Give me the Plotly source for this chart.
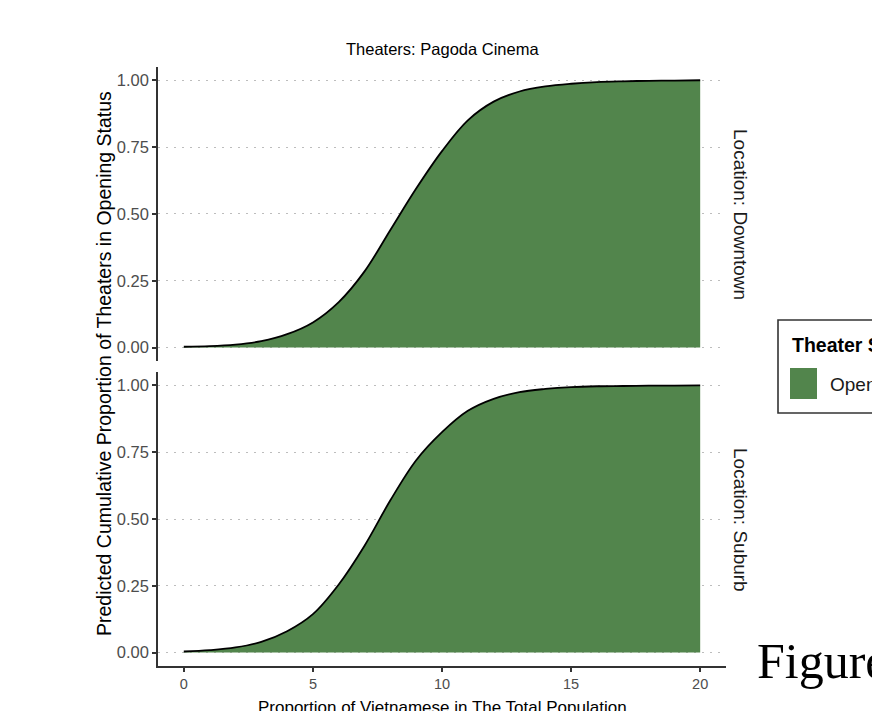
import plotly.graph_objects as go

# The page body has an 8px default margin, so the figure is sized to fill
# the rest of the 880x711 window exactly.
OFF = 8
W, H = 880 - OFF, 711 - OFF

# ---------------- data ----------------
proportion = list(range(0, 21))
downtown_cum = [0.003, 0.005, 0.011, 0.024, 0.05, 0.094, 0.17, 0.285, 0.44, 0.595,
                0.735, 0.85, 0.92, 0.958, 0.977, 0.987, 0.993, 0.996, 0.998, 0.999, 1.0]
suburb_cum = [0.004, 0.009, 0.019, 0.04, 0.08, 0.144, 0.255, 0.40, 0.57, 0.72,
              0.825, 0.905, 0.95, 0.975, 0.987, 0.994, 0.997, 0.998, 0.999, 0.9995, 1.0]
y_ticks = [0, 0.25, 0.5, 0.75, 1.0]
y_tick_labels = ["0.00", "0.25", "0.50", "0.75", "1.00"]
x_ticks = [0, 5, 10, 15, 20]
x_tick_labels = ["0", "5", "10", "15", "20"]
facets = ["Location: Downtown", "Location: Suburb"]
title_text = "Theaters: Pagoda Cinema"
x_title = "Proportion of Vietnamese in The Total Population"
y_title = "Predicted Cumulative Proportion of Theaters in Opening Status"
legend_title = "Theater Status"
legend_label = "Opening"

FILL = "#52854C"
FONT = "Liberation Sans"
AXIS_COL = "#333333"
TICK_COL = "#4d4d4d"
GRID_COL = "#bdbdbd"


def px_x(p):
    return (p - OFF) / W


def px_y(p):
    return 1 - (p - OFF) / H


fig = go.Figure()
for xa, ya, vals in [("x", "y", downtown_cum), ("x2", "y2", suburb_cum)]:
    fig.add_trace(go.Scatter(
        x=proportion, y=vals, xaxis=xa, yaxis=ya,
        mode="lines", line=dict(color="black", width=1.8, shape="spline", smoothing=1.0),
        fill="tozeroy", fillcolor=FILL, hoverinfo="skip", showlegend=False,
    ))

xdom = [px_x(158), px_x(726)]
top_dom = [px_y(360.9), px_y(66.9)]
bot_dom = [px_y(665.9), px_y(372.1)]

yaxis_common = dict(
    range=[-0.05, 1.05], showline=True, linecolor=AXIS_COL, linewidth=1.7,
    ticks="outside", ticklen=4, tickwidth=1.7, tickcolor=AXIS_COL,
    tickvals=y_ticks, ticktext=y_tick_labels,
    tickfont=dict(family=FONT, size=16.5, color=TICK_COL),
    showgrid=True, gridcolor=GRID_COL, gridwidth=1.4, griddash="2px,6px",
    zeroline=False, fixedrange=True,
)

fig.update_layout(
    width=W, height=H,
    margin=dict(l=0, r=0, t=0, b=0, autoexpand=False),
    paper_bgcolor="white", plot_bgcolor="white",
    showlegend=False, hovermode=False,
    xaxis=dict(domain=xdom, anchor="y", range=[-1, 21], visible=False, fixedrange=True),
    yaxis=dict(domain=top_dom, anchor="x", **yaxis_common),
    xaxis2=dict(domain=xdom, anchor="y2", range=[-1, 21], showline=True,
                linecolor=AXIS_COL, linewidth=1.7, ticks="outside", ticklen=4,
                tickwidth=1.7, tickcolor=AXIS_COL, tickvals=x_ticks, ticktext=x_tick_labels,
                tickfont=dict(family=FONT, size=14.5, color=TICK_COL),
                showgrid=False, zeroline=False, fixedrange=True),
    yaxis2=dict(domain=bot_dom, anchor="x2", **yaxis_common),
)

ann = [
    dict(text=title_text, x=px_x(442), y=px_y(49), font=dict(family=FONT, size=16.5, color="black")),
    dict(text=facets[0], x=px_x(741), y=px_y(214), textangle=90,
         font=dict(family=FONT, size=19, color="#1a1a1a")),
    dict(text=facets[1], x=px_x(741), y=px_y(520), textangle=90,
         font=dict(family=FONT, size=19, color="#1a1a1a")),
    dict(text=y_title, x=px_x(104), y=px_y(364), textangle=-90,
         font=dict(family=FONT, size=19.5, color="black")),
    dict(text=x_title, x=px_x(442), y=px_y(707), font=dict(family=FONT, size=17, color="black")),
    dict(text="<b>" + legend_title + "</b>", x=px_x(790), y=px_y(345), xanchor="left",
         font=dict(family=FONT, size=19.5, color="black")),
    dict(text=legend_label, x=px_x(828), y=px_y(384), xanchor="left",
         font=dict(family=FONT, size=19, color="#1a1a1a")),
    dict(text="Figure", x=px_x(755), y=px_y(661), xanchor="left",
         font=dict(family="Liberation Serif", size=50, color="black")),
]
for a in ann:
    a.setdefault("xanchor", "center")
    a.update(xref="paper", yref="paper", yanchor="middle", showarrow=False)
fig.update_layout(annotations=ann)

fig.update_layout(shapes=[
    dict(type="rect", xref="paper", yref="paper", x0=px_x(778), x1=px_x(905),
         y0=px_y(413), y1=px_y(320), line=dict(color=AXIS_COL, width=1.6), fillcolor="white",
         layer="below"),
    dict(type="rect", xref="paper", yref="paper", x0=px_x(790), x1=px_x(817),
         y0=px_y(399), y1=px_y(368), line=dict(width=0), fillcolor=FILL),
])

fig.write_html("out.html", config={"displayModeBar": False})
